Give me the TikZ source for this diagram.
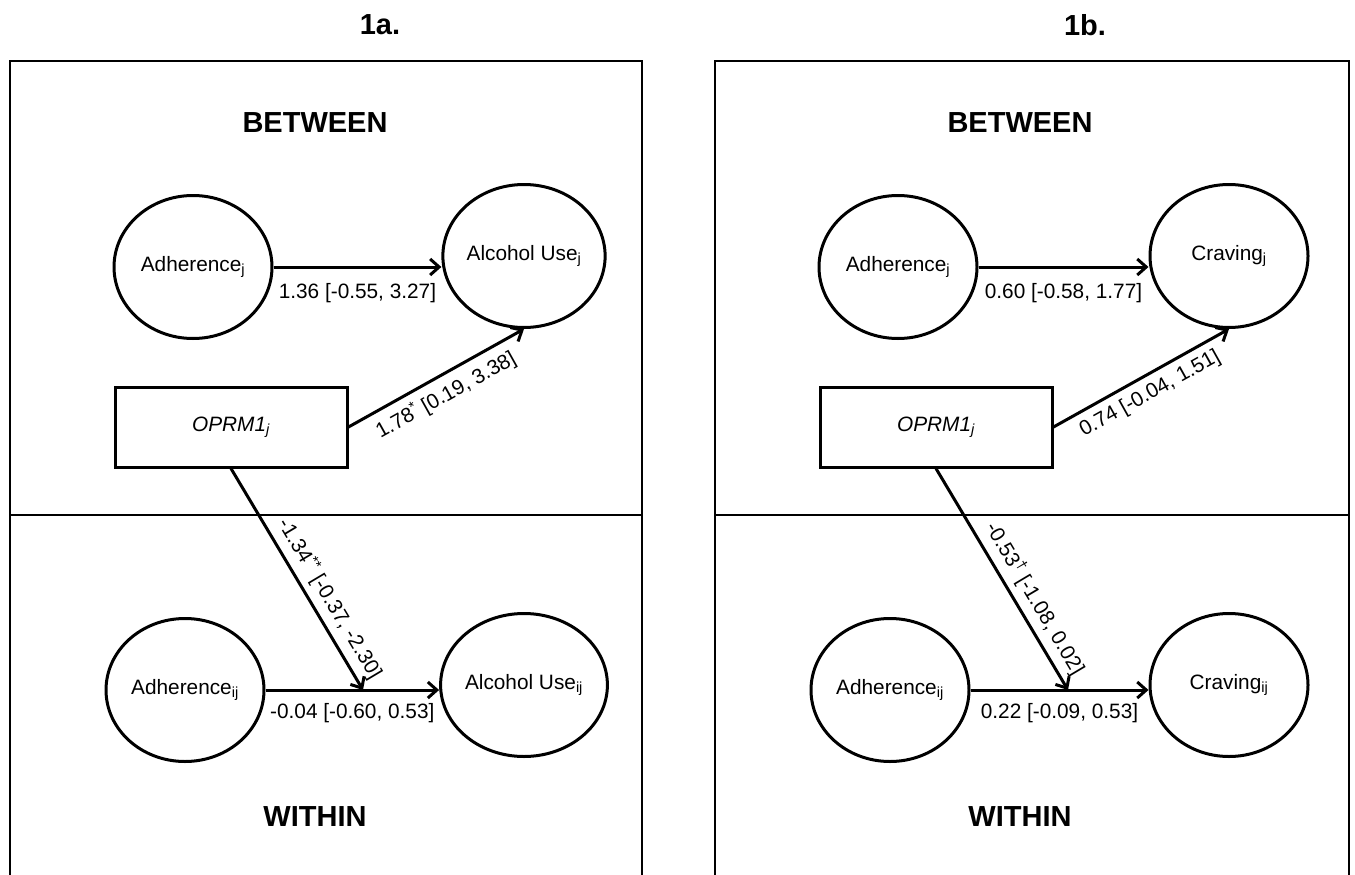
\documentclass[tikz,border=0pt]{standalone}
\usepackage{fontspec}
\setmainfont{Liberation Sans}
\usetikzlibrary{shapes.geometric,arrows.meta}

\begin{document}
\begin{tikzpicture}[x=1pt,y=-1pt,
        font=\fontsize{20.8}{24}\selectfont,
        frame/.style={line width=2pt},
        heading/.style={font=\fontsize{29}{34}\selectfont\bfseries},
        latent/.style={ellipse,draw,line width=3pt,minimum width=158pt,minimum height=143pt,inner sep=0pt},
        observed/.style={rectangle,draw,line width=3pt,minimum width=232pt,minimum height=80pt},
        effect/.style={line width=3pt,-{Straight Barb[length=9pt,width=16pt]}},
        coef/.style={inner sep=3pt}]
        \useasboundingbox (0,0) rectangle (1355,875);

        % 1a
        \node[heading] (titleA) at (380,25) {1a.};
        \draw[frame] (10,875) -- (10,61) -- (642,61) -- (642,875);
        \draw[frame] (10,515) -- (642,515);
        \node[heading] (betweenA) at (315,123) {BETWEEN};
        \node[heading] (withinA) at (315,817) {WITHIN};
        \node[latent] (adhBa) at (193,267) {Adherence\textsubscript{j}};
        \node[latent] (useBa) at (524,256) {Alcohol Use\textsubscript{j}};
        \node[observed] (oprBa) at (231,427) {\textit{OPRM1\textsubscript{j}}};
        \node[latent] (adhWa) at (185,690) {Adherence\textsubscript{ij}};
        \node[latent] (useWa) at (524,685) {Alcohol Use\textsubscript{ij}};
        \coordinate (hitA) at (363,690);
        \draw[effect] (adhBa.east) -- (adhBa.east -| useBa.west) node[coef, midway, below=12pt] {1.36 [-0.55, 3.27]};
        \draw[effect] (oprBa.east) -- (useBa.south) node[coef, midway, below=4pt, sloped] {1.78\textsuperscript{*} [0.19, 3.38]};
        \draw[effect] (adhWa.east) -- (adhWa.east -| useWa.west) node[coef, midway, below=9pt] {-0.04 [-0.60, 0.53]};
        \draw[effect] (oprBa.south) -- (hitA) node[coef, pos=0.63, above=3pt, sloped] {-1.34\textsuperscript{**} [-0.37, -2.30]};

        % 1b
        \begin{scope}[xshift=705pt]
            \node[heading] (titleB) at (380,25) {1b.};
            \draw[frame] (10,875) -- (10,61) -- (644,61) -- (644,875);
            \draw[frame] (10,515) -- (644,515);
            \node[heading] (betweenB) at (315,123) {BETWEEN};
            \node[heading] (withinB) at (315,817) {WITHIN};
            \node[latent] (adhBb) at (193,267) {Adherence\textsubscript{j}};
            \node[latent] (cravBb) at (524,256) {Craving\textsubscript{j}};
            \node[observed] (oprBb) at (231,427) {\textit{OPRM1\textsubscript{j}}};
            \node[latent] (adhWb) at (185,690) {Adherence\textsubscript{ij}};
            \node[latent] (cravWb) at (524,685) {Craving\textsubscript{ij}};
            \coordinate (hitB) at (363,690);
            \draw[effect] (adhBb.east) -- (adhBb.east -| cravBb.west) node[coef, midway, below=12pt] {0.60 [-0.58, 1.77]};
            \draw[effect] (oprBb.east) -- (cravBb.south) node[coef, midway, below=4pt, sloped] {0.74 [-0.04, 1.51]};
            \draw[effect] (adhWb.east) -- (adhWb.east -| cravWb.west) node[coef, midway, below=9pt] {0.22 [-0.09, 0.53]};
            \draw[effect] (oprBb.south) -- (hitB) node[coef, pos=0.63, above=3pt, sloped] {-0.53\textsuperscript{†} [-1.08, 0.02]};
        \end{scope}
    \end{tikzpicture}
\end{document}
